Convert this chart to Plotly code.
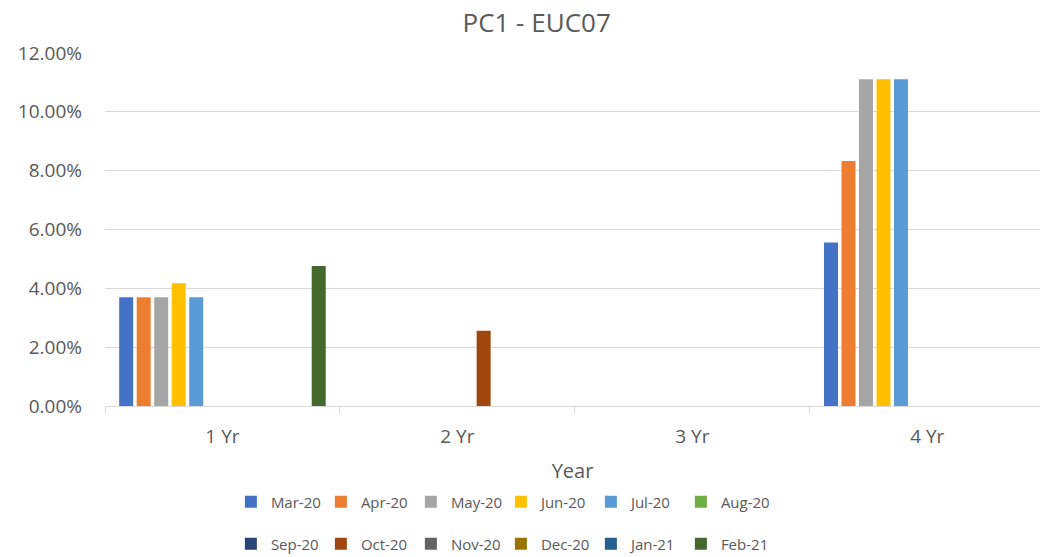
import plotly.graph_objects as go

categories = ["1 Yr", "2 Yr", "3 Yr", "4 Yr"]
series_names = ["Mar-20", "Apr-20", "May-20", "Jun-20", "Jul-20", "Aug-20",
                "Sep-20", "Oct-20", "Nov-20", "Dec-20", "Jan-21", "Feb-21"]
mar_20 = [0.0370, 0, 0, 0.0556]
apr_20 = [0.0370, 0, 0, 0.0833]
may_20 = [0.0370, 0, 0, 0.1111]
jun_20 = [0.0417, 0, 0, 0.1111]
jul_20 = [0.0370, 0, 0, 0.1111]
aug_20 = [0, 0, 0, 0]
sep_20 = [0, 0, 0, 0]
oct_20 = [0, 0.0256, 0, 0]
nov_20 = [0, 0, 0, 0]
dec_20 = [0, 0, 0, 0]
jan_21 = [0, 0, 0, 0]
feb_21 = [0.0476, 0, 0, 0]
series_values = [mar_20, apr_20, may_20, jun_20, jul_20, aug_20,
                 sep_20, oct_20, nov_20, dec_20, jan_21, feb_21]
colors = ["#4472C4", "#ED7D31", "#A5A5A5", "#FFC000", "#5B9BD5", "#70AD47",
          "#264478", "#9E480E", "#636363", "#997300", "#255E91", "#43682B"]
y_ticks = [0, 0.02, 0.04, 0.06, 0.08, 0.10, 0.12]

FONT = "Open Sans"
TXT = "#595959"
GRID = "#D9D9D9"

fig = go.Figure()
for i, (name, vals, col) in enumerate(zip(series_names, series_values, colors)):
    fig.add_trace(go.Bar(
        x=categories, y=vals, name=name,
        marker=dict(color=col, line=dict(width=0)),
        legend="legend" if i < 6 else "legend2",
    ))

legend_common = dict(
    orientation="h", xref="container", yref="container",
    xanchor="left", yanchor="middle",
    font=dict(family=FONT, size=15, color=TXT),
    entrywidth=45, entrywidthmode="pixels",
    itemclick=False, bgcolor="rgba(0,0,0,0)",
)

fig.update_layout(
    width=1040, height=557,
    barmode="group", bargap=0.106, bargroupgap=0.2,
    plot_bgcolor="white", paper_bgcolor="white",
    margin=dict(l=105, r=0, t=53, b=151),
    font=dict(family=FONT, color=TXT),
    title=dict(text="PC1 - EUC07", x=0.516, xref="container", xanchor="center",
               y=1 - 23 / 557, yref="container", yanchor="middle",
               font=dict(family=FONT, size=26, color=TXT)),
    xaxis=dict(
        type="category", range=[-0.5, 3.48],
        showgrid=False, showline=True, linecolor=GRID, linewidth=1,
        ticks="outside", tickson="boundaries", ticklen=6, tickcolor=GRID,
        tickfont=dict(family=FONT, size=19, color=TXT),
        ticklabelstandoff=13,
        title=dict(text="Year", font=dict(family=FONT, size=20, color=TXT), standoff=16),
    ),
    yaxis=dict(
        range=[0, 0.12], tickvals=y_ticks, tickformat=".2%",
        showgrid=True, gridcolor=GRID, gridwidth=1,
        zeroline=False, showline=False, ticks="",
        tickfont=dict(family=FONT, size=19, color=TXT),
        ticklabelstandoff=22,
    ),
    legend=dict(x=0.222, y=1 - 502 / 557, **legend_common),
    legend2=dict(x=0.222, y=1 - 544 / 557, **legend_common),
    showlegend=True,
)

fig.write_html(
    "out.html",
    config={"displayModeBar": False},
    post_script="document.body.style.margin='0px';document.body.style.overflow='hidden';",
)
